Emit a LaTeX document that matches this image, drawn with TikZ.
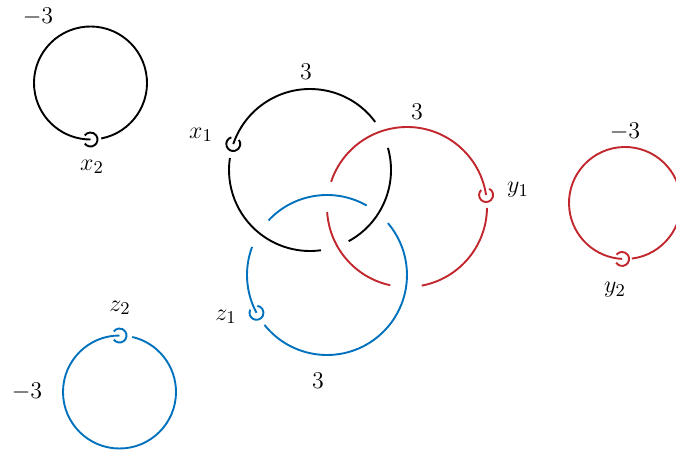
\documentclass[tikz,border=0pt]{standalone}
\definecolor{kred}{RGB}{193,39,45}
\definecolor{kblue}{RGB}{0,114,189}
\begin{document}
\begin{tikzpicture}[x=0.017575cm,y=0.017575cm,
  strand/.style={line width=0.95pt},
  lbl/.style={font=\fontsize{13}{15}\selectfont, inner sep=0pt}]
\useasboundingbox (0,0) rectangle (676,451);
\clip (0,0) rectangle (676,451);
% centres
\coordinate (Cx2) at (90.5,368);
\coordinate (Cy2) at (625,248);
\coordinate (Cz2) at (119.5,59);
\coordinate (B) at (310,281);
\coordinate (R) at (407,244);
\coordinate (Z) at (327,176);
% hook points
\path (Cx2) ++(-90:56.5) coordinate (hx2);
\path (Cy2) ++(-93:56) coordinate (hy2);
\path (Cz2) ++(90:56.5) coordinate (hz2);
\path (B) ++(161.3:81) coordinate (hx1);
\path (R) ++(8.6:80) coordinate (hy1);
\path (Z) ++(208.2:80) coordinate (hz1);

% small black circle x2
\draw[strand] (Cx2) ++(-79:56.5) arc[start angle=-79, end angle=270, radius=56.5];
\draw[strand] (hx2) ++(215:7) arc[start angle=215, end angle=505, radius=7];
% small red circle y2
\draw[strand,kred] (Cy2) ++(-83:56) arc[start angle=-83, end angle=267, radius=56];
\draw[strand,kred] (hy2) ++(212:7) arc[start angle=212, end angle=502, radius=7];
% small blue circle z2
\draw[strand,kblue] (Cz2) ++(90:56.5) arc[start angle=90, end angle=437, radius=56.5];
\draw[strand,kblue] (hz2) ++(215:7) arc[start angle=215, end angle=505, radius=7];

% black big circle x1
\draw[strand] (B) ++(-61.5:81) arc[start angle=-61.5, end angle=15.8, radius=81];
\draw[strand] (B) ++(36.4:81) arc[start angle=36.4, end angle=161.3, radius=81];
\draw[strand] (B) ++(171.5:81) arc[start angle=171.5, end angle=277.8, radius=81];
\draw[strand] (hx1) ++(106.3:7) arc[start angle=106.3, end angle=396.3, radius=7];
% red big circle y1
\draw[strand,kred] (R) ++(8.6:80) arc[start angle=8.6, end angle=161.6, radius=80];
\draw[strand,kred] (R) ++(183.6:80) arc[start angle=183.6, end angle=257.9, radius=80];
\draw[strand,kred] (R) ++(280.6:80) arc[start angle=280.6, end angle=359.3, radius=80];
\draw[strand,kred] (hy1) ++(133.6:7) arc[start angle=133.6, end angle=423.6, radius=7];
% blue big circle z1
\draw[strand,kblue] (Z) ++(60.3:80) arc[start angle=60.3, end angle=137, radius=80];
\draw[strand,kblue] (Z) ++(159.5:80) arc[start angle=159.5, end angle=208.2, radius=80];
\draw[strand,kblue] (Z) ++(218.6:80) arc[start angle=218.6, end angle=400.4, radius=80];
\draw[strand,kblue] (hz1) ++(153.2:7) arc[start angle=153.2, end angle=443.2, radius=7];

% labels
\node[lbl] (lx2f) at (38,434) {$-3$};
\node[lbl] (lx2) at (92,284) {$x_2$};
\node[lbl] (lx1f) at (306,379) {$3$};
\node[lbl] (lx1) at (201,316) {$x_1$};
\node[lbl] (ly1f) at (417,339) {$3$};
\node[lbl] (ly1) at (518,261) {$y_1$};
\node[lbl] (ly2f) at (625,319) {$-3$};
\node[lbl] (ly2) at (615,161) {$y_2$};
\node[lbl] (lz2) at (120,143) {$z_2$};
\node[lbl] (lz2f) at (27,59) {$-3$};
\node[lbl] (lz1) at (226,134) {$z_1$};
\node[lbl] (lz1f) at (318,70) {$3$};
\end{tikzpicture}
\end{document}
